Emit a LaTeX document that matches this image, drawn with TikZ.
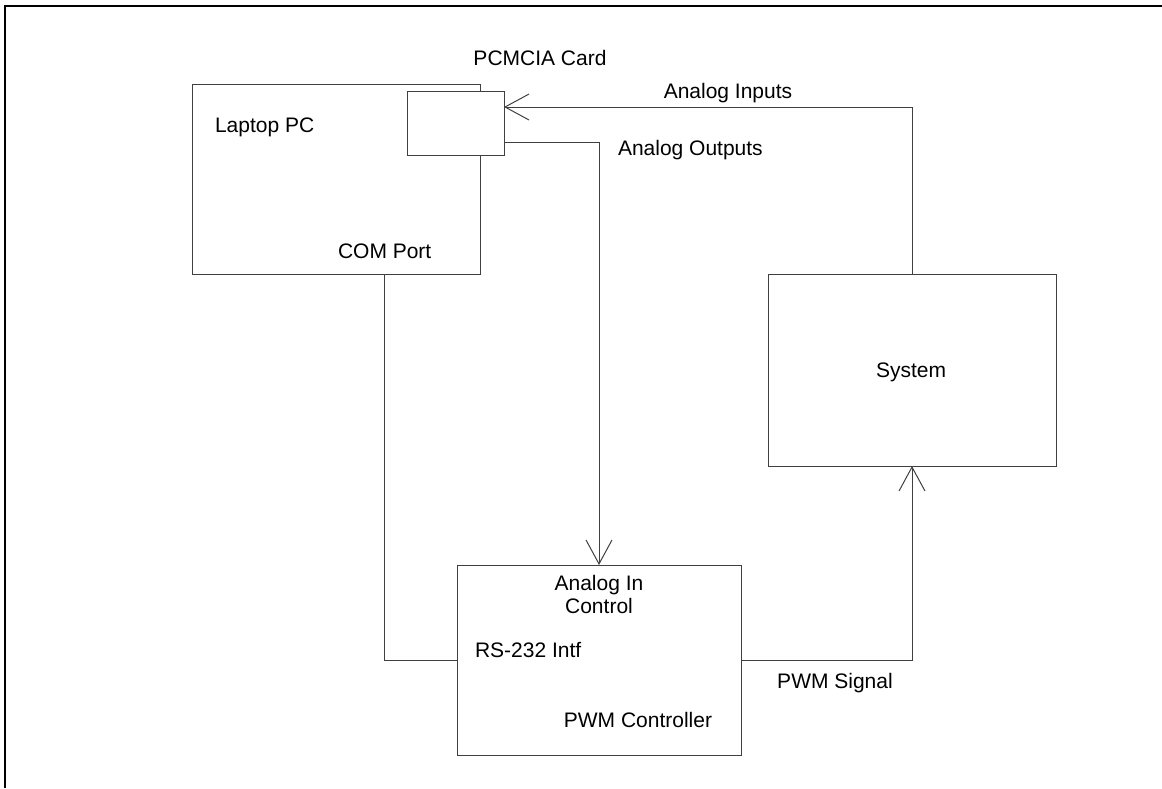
\documentclass[tikz,border=0pt]{standalone}
\usepackage{fontspec}
\setmainfont{Liberation Sans}
\usetikzlibrary{arrows.meta,calc}
\begin{document}
\begin{tikzpicture}[x=1pt,y=-1pt,
  box/.style={draw=black!75, line width=1pt, rectangle, inner sep=0pt, outer sep=0pt},
  wire/.style={draw=black!75, line width=1pt},
  arr/.style={wire, -{Straight Barb[length=24pt,width=26pt,line width=1pt]}},
  lbl/.style={font=\fontsize{21}{25}\selectfont, inner sep=0pt, outer sep=0pt, anchor=base}]
\useasboundingbox (0,0) rectangle (1162,788);
\draw[line width=2pt] (1162,6) -- (5,6) -- (5,788);
% boxes
\node[box, minimum width=288pt, minimum height=190pt] (laptop) at (336,179) {};
\node[box, minimum width=97pt, minimum height=64pt, fill=white] (card) at (455.5,123) {};
\node[box, minimum width=288pt, minimum height=192pt] (system) at (912,370) {};
\node[box, minimum width=284pt, minimum height=190pt] (ctrl) at (599,660) {};
% connector anchors
\coordinate (ain) at ($(card.north east)!0.25!(card.south east)$);
\coordinate (aout) at ($(card.north east)!0.8!(card.south east)$);
\coordinate (com) at ($(laptop.south west)!0.6667!(laptop.south east)$);
% connectors
\draw[arr] (system.north) |- (ain);
\draw[arr] (aout) -| (ctrl.north);
\draw[wire] (com) |- (ctrl.west);
\draw[arr] (ctrl.east) -| (system.south);
% labels
\node[lbl] (tcard) at (540,65) {PCMCIA Card};
\node[lbl, anchor=base west] (tlaptop) at (215,132) {Laptop PC};
\node[lbl] (tain) at (728,98) {Analog Inputs};
\node[lbl, anchor=base west] (taout) at (618,155) {Analog Outputs};
\node[lbl, anchor=base west] (tcom) at (338,258) {COM Port};
\node[lbl] (tsys) at (911,377) {System};
\node[lbl] (tai) at (599,590) {Analog In};
\node[lbl] (tctl) at (599,613) {Control};
\node[lbl, anchor=base west] (trs) at (475,657) {RS-232 Intf};
\node[lbl] (tpwmc) at (638,727) {PWM Controller};
\node[lbl] (tpwms) at (835,688) {PWM Signal};
\end{tikzpicture}
\end{document}
